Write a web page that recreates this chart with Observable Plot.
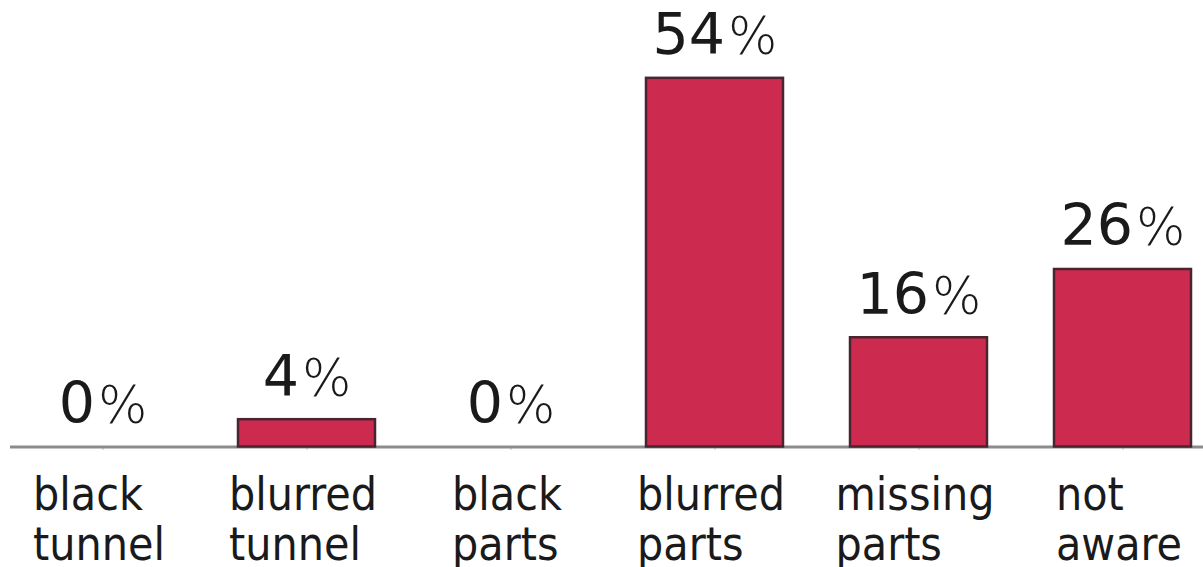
<!DOCTYPE html>
<html>
<head>
<meta charset="utf-8">
<script src="https://cdn.jsdelivr.net/npm/d3@7"></script>
<script src="https://cdn.jsdelivr.net/npm/@observablehq/plot@0.6"></script>
<style>
  html, body { margin: 0; padding: 0; background: #fff; }
</style>
</head>
<body>
<div id="chart"></div>
<script>
// Share of responses per category (percent)
const categories = ["black tunnel", "blurred tunnel", "black parts", "blurred parts", "missing parts", "not aware"];
const percentages = [0, 4, 0, 54, 16, 26];

const data = categories.map((category, i) => ({category, pct: percentages[i]}));

const chart = Plot.plot({
  width: 1203,
  height: 567,
  marginLeft: 10,
  marginRight: 0,
  marginTop: 0,
  marginBottom: 120.5,
  style: {background: "#fff", fontFamily: "'DejaVu Sans', Verdana, sans-serif"},
  x: {domain: categories, paddingInner: 0.33, paddingOuter: 0.08, align: 0.67, axis: null},
  y: {domain: [0, 65.4], axis: null},
  marks: [
    Plot.ruleX(categories, {x: d => d, y1: 0, y2: -0.5, stroke: "#b8b8b8"}),
    Plot.ruleY([0], {stroke: "#8c8c8c", strokeWidth: 3}),
    Plot.barY(data, {x: "category", y: "pct", fill: "#cc2a4f", stroke: "#4a2530", strokeWidth: 2.5}),
    Plot.text(data, {
      x: "category", y: "pct", text: d => `${d.pct}%`,
      dy: -24, lineAnchor: "bottom", fontSize: 57, fill: "#1a1a1a"
    }),
    Plot.text(categories, {
      x: d => d, y: 0, text: d => d.replace(" ", "\n"),
      dy: 112.5, lineAnchor: "bottom", lineHeight: 1.07, fontSize: 46,
      fontFamily: "'DejaVu Sans Condensed', 'DejaVu Sans', sans-serif",
      textAnchor: "start", fill: "#1a1a1a"
    })
  ]
});

document.getElementById("chart").append(chart);

const textGroups = d3.select(chart).selectAll('g[aria-label="text"]').nodes();

// Value labels: the percent sign is set lighter than the number
d3.select(textGroups[0]).selectAll("text").each(function () {
  const t = d3.select(this);
  const num = t.text().replace("%", "");
  t.text(num);
  t.append("tspan").attr("dx", 3).attr("font-size", 52).attr("font-weight", 200).text("%");
});

// Category labels: lines left-aligned, block centred under its bar
d3.select(textGroups[1]).selectAll("text").each(function () {
  const spans = d3.select(this).selectAll("tspan");
  const w = d3.max(spans.nodes(), n => n.getComputedTextLength());
  spans.attr("x", -w / 2 - 4);
});
</script>
</body>
</html>
